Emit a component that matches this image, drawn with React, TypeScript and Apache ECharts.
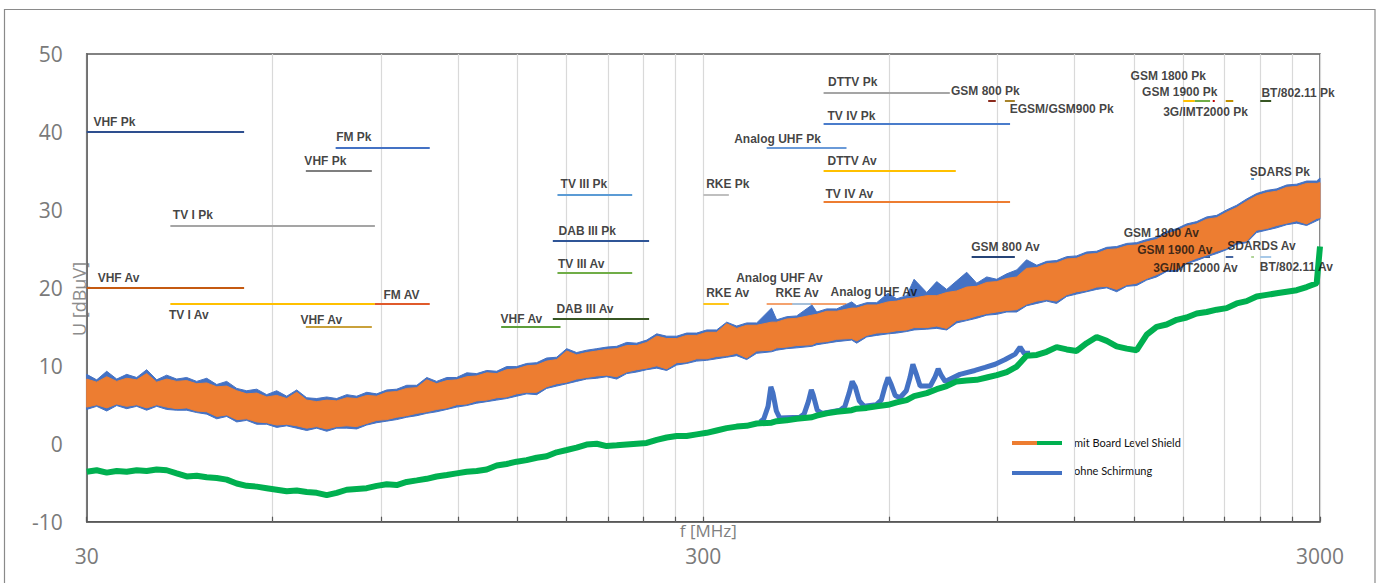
import React, { useEffect, useRef } from 'react';
import * as echarts from 'echarts';

// Frequency knots (MHz) of the measured traces
const UPPER_F = [
  30, 31.14, 32.33, 33.56, 34.83, 36.16, 37.53, 38.96, 40.44, 41.98,
  43.58, 45.24, 46.96, 48.75, 50.6, 52.53, 54.52, 56.6, 58.75, 60.99,
  63.31, 65.72, 68.22, 70.81, 73.51, 76.3, 79.21, 82.22, 85.35, 88.6,
  91.97, 95.47, 99.1, 102.9, 106.8, 110.8, 115.1, 119.4, 124, 128.7,
  133.6, 138.7, 143.9, 149.4, 155.1, 161, 167.1, 173.5, 180.1, 186.9,
  194, 201.5, 209.1, 217.1, 225.3, 233.9, 242.8, 252.1, 261.6, 271.6,
  281.9, 292.6, 303.8, 315.3, 327.3, 339.8, 352.7, 366.1, 387, 394.5,
  409.5, 425.1, 450, 458.1, 475.5, 493.6, 522, 531.9, 552.1, 573.1,
  598, 617.6, 641.1, 659, 690.8, 717.1, 744.3, 772.7, 802.1, 832.6,
  864.3, 897.2, 931.3, 966.7, 1003, 1042, 1081, 1122, 1165, 1209,
  1255, 1303, 1353, 1404, 1458, 1513, 1571, 1630, 1692, 1757,
  1823, 1893, 1965, 2040, 2117, 2198, 2281, 2368, 2458, 2552,
  2649, 2750, 2854, 2963, 3000,
];

// mit Board Level Shield – upper trace envelope (dBµV)
const ORANGE_LO = [
  4.7, 5.0, 4.6, 5.1, 4.8, 5.0, 4.6, 5.0, 4.7, 4.5,
  4.6, 4.2, 4.1, 3.5, 3.7, 3.1, 3.2, 2.8, 2.7, 2.4,
  2.5, 2.3, 2.0, 2.2, 1.9, 2.2, 2.3, 2.2, 2.6, 3.0,
  3.1, 3.4, 3.6, 3.9, 4.1, 4.4, 4.6, 5.0, 5.1, 5.5,
  5.6, 5.9, 6.0, 6.4, 6.6, 6.6, 7.3, 7.7, 7.9, 8.3,
  8.5, 8.7, 8.8, 8.6, 9.2, 9.5, 9.7, 10.0, 9.6, 10.4,
  10.5, 10.9, 10.9, 11.2, 11.3, 11.6, 11.0, 11.9, 12.0, 12.3,
  12.4, 12.6, 12.7, 13.0, 13.1, 13.4, 13.5, 13.2, 13.9, 14.2,
  14.3, 14.5, 14.6, 14.9, 14.9, 15.1, 14.8, 15.8, 16.0, 16.4,
  16.7, 16.9, 17.1, 17.2, 17.9, 18.3, 18.5, 18.3, 19.1, 19.5,
  19.7, 20.1, 20.2, 19.8, 20.4, 20.6, 21.2, 21.7, 22.3, 22.4,
  23.3, 23.8, 24.2, 24.7, 25.1, 25.9, 26.0, 27.4, 27.6, 28.0,
  28.3, 28.6, 28.2, 28.9, 29.0,
];
const ORANGE_HI = [
  8.3, 7.9, 8.6, 8.0, 8.4, 8.2, 9.0, 7.9, 8.3, 8.0,
  8.1, 7.7, 7.8, 7.3, 7.4, 6.8, 6.4, 6.5, 6.0, 6.2,
  5.8, 6.6, 5.6, 5.4, 5.6, 5.5, 5.9, 5.8, 6.2, 6.1,
  6.6, 6.7, 7.1, 7.2, 8.2, 7.7, 8.1, 8.2, 8.6, 8.7,
  9.1, 9.0, 9.5, 9.6, 10.0, 10.1, 10.6, 10.8, 11.9, 11.4,
  11.7, 11.9, 12.1, 12.2, 12.6, 12.6, 13.0, 13.8, 13.5, 13.5,
  13.9, 13.9, 14.3, 14.3, 15.4, 14.8, 15.2, 15.2, 15.6, 15.6,
  16.0, 16.1, 16.5, 16.6, 17.0, 17.0, 17.4, 17.4, 17.8, 17.8,
  18.2, 18.3, 18.6, 18.7, 19.0, 19.0, 19.4, 19.6, 20.1, 20.2,
  20.7, 20.8, 21.2, 21.4, 22.5, 22.6, 23.1, 23.2, 23.7, 23.8,
  24.3, 24.4, 24.9, 25.0, 25.4, 25.5, 25.9, 26.2, 26.9, 27.3,
  27.9, 28.2, 28.8, 29.0, 29.7, 30.3, 31.1, 31.8, 32.2, 32.4,
  32.9, 33.0, 33.4, 33.4, 33.5,
];

// ohne Schirmung – upper trace envelope (dBµV)
const BLUE_LO = [
  4.4, 4.8, 4.2, 4.9, 4.5, 4.8, 4.3, 4.8, 4.4, 4.3,
  4.3, 4.0, 3.8, 3.2, 3.5, 2.8, 3.0, 2.5, 2.5, 2.1,
  2.3, 2.0, 1.7, 2.0, 1.6, 2.0, 2.0, 1.9, 2.4, 2.7,
  2.9, 3.1, 3.4, 3.6, 3.9, 4.1, 4.4, 4.7, 4.9, 5.2,
  5.4, 5.6, 5.8, 6.1, 6.4, 6.3, 7.1, 7.4, 7.7, 8.0,
  8.3, 8.4, 8.6, 8.3, 9.0, 9.2, 9.5, 9.7, 9.4, 10.1,
  10.3, 10.6, 10.7, 10.9, 11.1, 11.3, 10.8, 11.6, 11.8, 12.0,
  12.2, 12.3, 12.5, 12.7, 12.9, 13.1, 13.3, 12.9, 13.7, 13.9,
  14.1, 14.2, 14.4, 14.6, 14.7, 14.8, 14.6, 15.5, 15.8, 16.1,
  16.5, 16.6, 16.9, 16.9, 17.7, 18.0, 18.3, 18.0, 18.9, 19.2,
  19.5, 19.8, 20.0, 19.5, 20.2, 20.3, 21.0, 21.4, 22.1, 22.1,
  23.1, 23.5, 24.0, 24.4, 24.9, 25.6, 25.8, 27.1, 27.4, 27.7,
  28.1, 28.3, 28.0, 28.6, 28.8,
];
const BLUE_HI = [
  8.9, 8.2, 9.3, 8.3, 8.9, 8.5, 9.5, 8.2, 8.8, 8.3,
  8.5, 8.0, 8.4, 7.6, 8.0, 7.1, 6.8, 7.0, 6.3, 6.8,
  6.1, 6.9, 5.9, 5.8, 6.0, 5.8, 6.3, 6.1, 6.6, 6.4,
  6.9, 7.0, 7.5, 7.5, 8.5, 8.0, 8.5, 8.5, 9.1, 9.0,
  9.4, 9.3, 9.9, 9.9, 10.3, 10.4, 11.0, 11.1, 12.2, 11.7,
  12.0, 12.2, 12.4, 12.5, 13.0, 12.9, 13.3, 14.1, 13.8, 13.8,
  14.2, 14.2, 14.6, 14.6, 15.6, 15.1, 15.5, 15.5, 17.4, 15.9,
  16.3, 16.4, 17.8, 16.9, 17.3, 17.3, 18.2, 17.7, 18.1, 18.1,
  19.3, 18.6, 19.0, 21.1, 19.4, 20.8, 19.8, 20.9, 22.0, 20.6,
  21.4, 21.1, 21.8, 22.3, 23.6, 22.9, 23.4, 23.5, 24.0, 24.1,
  24.6, 24.7, 25.2, 25.3, 25.7, 25.8, 26.2, 26.5, 27.2, 27.6,
  28.2, 28.5, 29.1, 29.3, 30.0, 30.6, 31.4, 32.1, 32.5, 32.7,
  33.2, 33.3, 33.7, 33.7, 34.1,
];

// mit Board Level Shield – lower trace (dBµV), same knots as UPPER_F
const GREEN = [
  -3.6, -3.4, -3.7, -3.5, -3.6, -3.4, -3.5, -3.3, -3.4, -3.8,
  -4.2, -4.1, -4.3, -4.4, -4.6, -5.1, -5.4, -5.5, -5.7, -5.9,
  -6.1, -6.0, -6.2, -6.3, -6.6, -6.3, -5.9, -5.8, -5.7, -5.4,
  -5.2, -5.3, -4.9, -4.7, -4.5, -4.2, -4.0, -3.8, -3.6, -3.5,
  -3.3, -2.8, -2.6, -2.3, -2.1, -1.8, -1.6, -1.1, -0.8, -0.5,
  -0.1, 0.0, -0.3, -0.2, -0.1, 0.0, 0.1, 0.5, 0.8, 1.0,
  1.0, 1.2, 1.4, 1.7, 2.0, 2.2, 2.3, 2.6, 2.7, 2.9,
  3.0, 3.2, 3.4, 3.6, 3.9, 4.1, 4.3, 4.5, 4.6, 4.8,
  5.0, 5.3, 5.6, 6.1, 6.5, 7.0, 7.4, 8.0, 8.1, 8.2,
  8.5, 8.8, 9.2, 9.9, 11.3, 11.4, 11.8, 12.4, 12.1, 11.9,
  12.9, 13.7, 13.2, 12.5, 12.2, 12.0, 14.0, 15.0, 15.3, 15.9,
  16.2, 16.7, 16.9, 17.2, 17.4, 18.0, 18.3, 18.9, 19.1, 19.3,
  19.5, 19.7, 20.1, 20.6, 25.3,
];

// ohne Schirmung – lower trace where it shows above the green one
const BLUE_LOW_F = [
  371, 376, 382, 386, 389, 394, 399, 430, 437, 444, 449, 452, 459, 467,
  500, 509, 517, 523, 529, 537, 547, 572, 583, 591, 598, 605, 614, 625,
  640, 649, 656, 664, 674, 700, 713, 721, 729, 740, 782, 827, 859, 892,
  926, 961, 979, 994, 1016,
];
const BLUE_LOW_V = [
  2.8, 3.2, 4.8, 7.3, 6.5, 4.2, 3.3, 3.4, 3.8, 5.4, 6.9, 6.3, 4.3, 3.9,
  4.3, 4.8, 6.5, 8.0, 7.3, 5.5, 4.8, 5.0, 5.6, 7.3, 8.5, 7.6, 6.2, 5.9,
  6.8, 8.5, 10.2, 9.0, 7.4, 7.4, 8.6, 9.6, 8.8, 8.0, 8.9, 9.4, 9.8, 10.2,
  10.8, 11.5, 12.4, 11.6, 11.6,
];

// Limit lines: [f start MHz, f end MHz, level dBµV]
const LIMITS: [number, number, number][] = [
  [30, 54, 40], [30, 54, 20], [41, 88, 28], [41, 88, 18], [76, 108, 38],
  [88, 108, 18], [68, 87, 35], [68, 87, 15], [141, 176, 15], [174, 230, 32],
  [174, 230, 22], [171, 245, 26], [171, 245, 16], [300, 330, 32], [300, 330, 18],
  [380, 512, 38], [380, 512, 18], [418, 448, 18], [470, 753, 45], [470, 943, 41],
  [470, 770, 35], [470, 943, 31], [869, 894, 44], [925, 960, 44], [817, 960, 24],
  [1800, 1880, 44], [1880, 1990, 44], [2010, 2025, 44], [2110, 2170, 44], [2400, 2500, 44],
  [2320, 2345, 34], [1805, 1880, 24], [1930, 1990, 24], [2110, 2170, 24], [2320, 2345, 24],
  [2400, 2500, 24],
];
const LIMIT_COLORS = [
  '#2E4F8F', '#C55A11', '#A5A5A5', '#FFC000', '#4472C4',
  '#E05A2B', '#7F7F7F', '#C9A13B', '#5C9E3A', '#5B9BD5',
  '#70AD47', '#2F5597', '#375623', '#BFBFBF', '#FFC000',
  '#6A9AD8', '#F4A26E', '#9DC3E6', '#A5A5A5', '#4A7CCB',
  '#FFC000', '#ED7D31', '#8B2A1C', '#A8842C', '#264478',
  '#FFC000', '#70AD47', '#C00000', '#BF9000', '#375623',
  '#5B9BD5', '#2F5597', '#264478', '#2F5597', '#A9D18E',
  '#9DC3E6',
];

// Band labels: [text, f anchor MHz, level anchor dBµV]
const LABELS: [string, number, number][] = [
  ['VHF Pk', 30.7, 41.3], ['FM Pk', 76, 39.35], ['VHF Pk', 67.5, 36.3], ['TV I Pk', 41.3, 29.3],
  ['VHF Av', 31.2, 21.3], ['TV I Av', 40.7, 16.5], ['FM AV', 90.7, 19.1], ['VHF Av', 66.5, 15.9],
  ['VHF Av', 140.4, 16.0], ['DTTV Pk', 477, 46.4], ['TV IV Pk', 476, 42.0], ['Analog UHF Pk', 336, 39.1],
  ['DTTV Av', 476, 36.3], ['TV III Pk', 175.7, 33.3], ['RKE Pk', 302.6, 33.3], ['TV IV Av', 472.5, 32.1],
  ['DAB III Pk', 174.4, 27.3], ['TV III Av', 174, 23.1], ['DAB III Av', 173, 17.3], ['RKE Av', 302.6, 19.4],
  ['Analog UHF Av', 338.5, 21.3], ['RKE Av', 392, 19.4], ['Analog UHF Av', 481.6, 19.5],
  ['GSM 800 Pk', 755, 45.2], ['EGSM/GSM900 Pk', 940, 42.9], ['GSM 1800 Pk', 1476, 47.2],
  ['GSM 1900 Pk', 1541, 45.1], ['3G/IMT2000 Pk', 1667, 42.6], ['BT/802.11 Pk', 2406, 45.0],
  ['SDARS Pk', 2304, 34.9], ['GSM 800 Av', 814, 25.2], ['GSM 1800 Av', 1439, 27.1],
  ['GSM 1900 Av', 1513, 24.9], ['3G/IMT2000 Av', 1606, 22.5], ['SDARDS Av', 2118, 25.4],
  ['BT/802.11 Av', 2391, 22.7],
];

const GRID_F = [30, 60, 90, 120, 150, 180, 210, 240, 270, 300, 600, 900, 1200, 1500, 1800, 2100, 2400, 2700, 3000];
const X_LABELS = [30, 300, 3000];
const X_MIN = 30;
const X_MAX = 3000;
const Y_MIN = -10;
const Y_MAX = 50;
const Y_STEP = 10;

const ORANGE = '#ED7D31';
const BLUE = '#4472C4';
const GREEN_C = '#00B050';

function band(name: string, lo: number[], hi: number[], color: string) {
  return {
    type: 'custom',
    name,
    silent: true,
    encode: { x: 0, y: 1 },
    data: [[UPPER_F[0], lo[0]]],
    renderItem: (_params: any, api: any) => {
      const top = UPPER_F.map((f, i) => api.coord([f, hi[i]]));
      const bot = UPPER_F.map((f, i) => api.coord([f, lo[i]])).reverse();
      return {
        type: 'polygon',
        shape: { points: top.concat(bot) },
        style: { fill: color, stroke: color, lineWidth: 1 },
      };
    },
  };
}

export default function App() {
  const ref = useRef<HTMLDivElement>(null);
  useEffect(() => {
    if (!ref.current) return;
    const chart = echarts.init(ref.current, undefined, { renderer: 'svg' });
    const option: any = {
      animation: false,
      grid: {
        left: 86.7, right: 64, top: 54, bottom: 61.3, show: true,
        borderColor: '#595959', borderWidth: 1.5, backgroundColor: 'transparent',
      },
      xAxis: {
        type: 'log', logBase: 10, min: X_MIN, max: X_MAX,
        name: 'f [MHz]', nameLocation: 'middle', nameGap: 0, nameMoveOverlap: false,
        nameTextStyle: { fontSize: 17, lineHeight: 17, color: '#808080', fontFamily: 'Open Sans', verticalAlign: 'top', padding: [0, 0, 0, 10] },
        axisLine: { show: true, onZero: false, lineStyle: { color: '#595959', width: 1.5 } },
        axisTick: { show: true, inside: true, length: 5, customValues: GRID_F, lineStyle: { color: '#595959', width: 1.2 } },
        axisLabel: {
          customValues: X_LABELS, fontSize: 21, lineHeight: 21, color: '#7a7a7a', margin: 24, fontFamily: 'Open Sans',
          showMinLabel: true, showMaxLabel: true, formatter: (v: number) => String(Math.round(v)),
        },
        splitLine: { show: true, lineStyle: { color: '#d9d9d9', width: 1.2 } },
        minorTick: { show: false }, minorSplitLine: { show: false },
      },
      yAxis: {
        type: 'value', min: Y_MIN, max: Y_MAX, interval: Y_STEP,
        axisLine: { show: true, onZero: false, lineStyle: { color: '#595959', width: 1.5 } },
        axisTick: { show: false },
        splitLine: { show: false },
        axisLabel: { fontSize: 21, color: '#7a7a7a', margin: 24, fontFamily: 'Open Sans' },
      },
      series: [
        {
          type: 'lines', coordinateSystem: 'cartesian2d', silent: true, z: 1,
          polyline: false,
          lineStyle: { width: 1.8, opacity: 1, curveness: 0 },
          data: LIMITS.map(([f1, f2, v], i) => ({
            coords: [[f1, v], [f2, v]],
            lineStyle: { color: LIMIT_COLORS[i], width: 1.8, opacity: 1 },
          })),
        },
        band('ohne Schirmung', BLUE_LO, BLUE_HI, BLUE),
        band('mit Board Level Shield', ORANGE_LO, ORANGE_HI, ORANGE),
        {
          type: 'line', name: 'ohne Schirmung (unten)', silent: true, symbol: 'none',
          lineStyle: { color: BLUE, width: 5 },
          data: BLUE_LOW_F.map((f, i) => [f, BLUE_LOW_V[i]]),
        },
        {
          type: 'line', name: 'mit Board Level Shield (unten)', silent: true, symbol: 'none',
          lineStyle: { color: GREEN_C, width: 6 },
          data: UPPER_F.map((f, i) => [f, GREEN[i]]),
        },
        {
          type: 'scatter', silent: true, z: 10, symbolSize: 1,
          itemStyle: { color: 'rgba(0,0,0,0)' },
          data: LABELS.map(([t, f, v]) => ({ name: t, value: [f, v] })),
          label: {
            show: true, position: 'right', distance: 0, formatter: '{b}',
            color: '#111', fontSize: 12, fontWeight: 'bold', fontFamily: 'Liberation Sans, Arial, sans-serif',
          },
          labelLayout: { hideOverlap: false },
        },
      ],
      graphic: [
        { type: 'rect', silent: true, z: -1, shape: { x: 4.5, y: 9.5, width: 1370.5, height: 620 }, style: { fill: 'none', stroke: '#8a8a8a', lineWidth: 1.2 } },
        { type: 'text', silent: true, x: 79, y: 299, rotation: Math.PI / 2, style: { text: 'U [dBµV]', fontSize: 18, fill: '#8c8c8c', fontFamily: 'Open Sans', align: 'center', verticalAlign: 'middle' } },
        { type: 'line', silent: true, shape: { x1: 1012, y1: 443, x2: 1037, y2: 443 }, style: { stroke: ORANGE, lineWidth: 4 } },
        { type: 'line', silent: true, shape: { x1: 1037, y1: 443, x2: 1062, y2: 443 }, style: { stroke: GREEN_C, lineWidth: 4 } },
        { type: 'line', silent: true, shape: { x1: 1012, y1: 473, x2: 1062, y2: 473 }, style: { stroke: BLUE, lineWidth: 4 } },
        { type: 'text', silent: true, x: 1074, y: 442, style: { text: 'mit Board Level Shield', fontSize: 11, fill: '#111', fontFamily: 'Lato', verticalAlign: 'middle' } },
        { type: 'text', silent: true, x: 1074, y: 470, style: { text: 'ohne Schirmung', fontSize: 11, fill: '#111', fontFamily: 'Lato', verticalAlign: 'middle' } },
      ],
    };
    chart.setOption(option);
    return () => chart.dispose();
  }, []);
  return <div ref={ref} style={{ position: 'absolute', left: 0, top: 0, width: 1384, height: 583 }} />;
}
